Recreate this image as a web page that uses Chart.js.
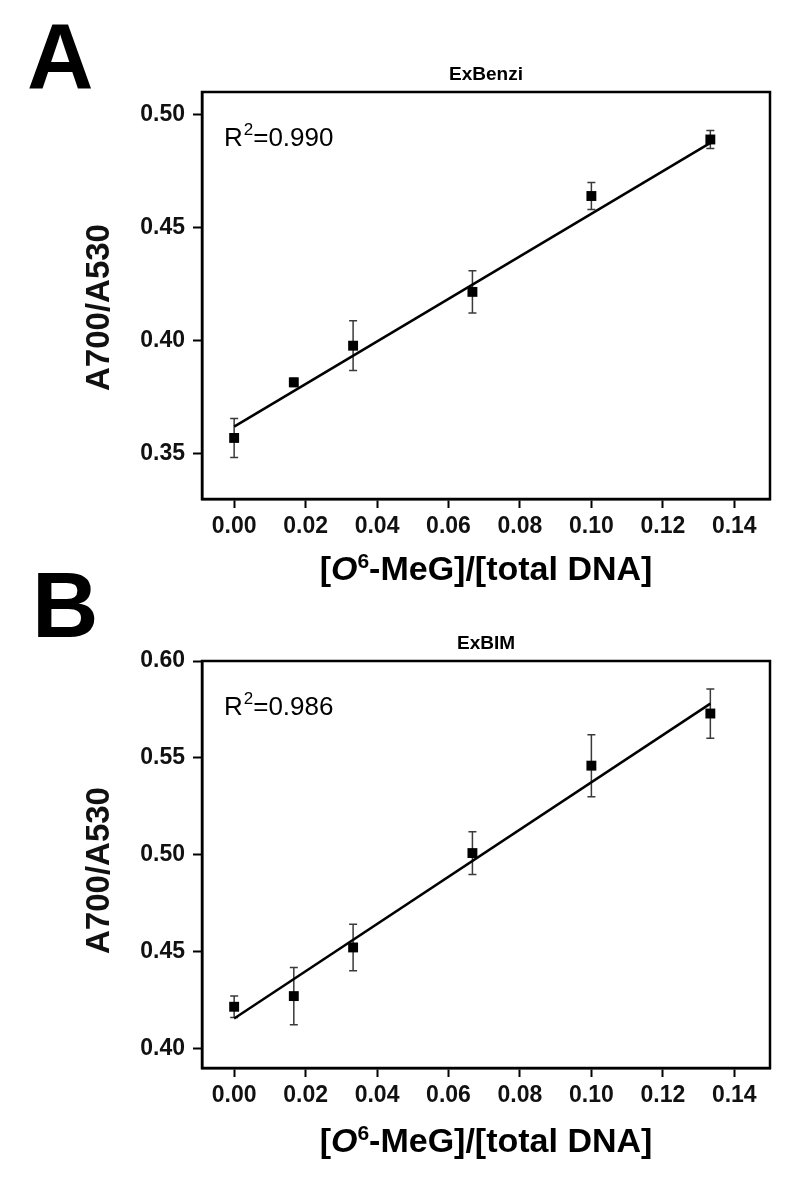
<!DOCTYPE html>
<html>
<head>
<meta charset="utf-8">
<script src="https://cdn.jsdelivr.net/npm/chart.js@4.4.1/dist/chart.umd.min.js"></script>
<style>
  body { margin: 0; background: #fff; }
  .wrap { position: relative; width: 800px; height: 1183px; }
  canvas { position: absolute; left: 0; display: block; }
  #chartA { top: 0; }
  #chartB { top: 550px; }
</style>
</head>
<body>
<div class="wrap">
<canvas id="chartA" width="800" height="600"></canvas>
<canvas id="chartB" width="800" height="633"></canvas>
</div>
<script>
// shared x positions ([O6-MeG]/[total DNA])
var xValues = [0, 0.0167, 0.0333, 0.0667, 0.1, 0.1333];
var xTicks = [0, 0.02, 0.04, 0.06, 0.08, 0.10, 0.12, 0.14];
var fitX = [0, 0.1333];

// panel A - ExBenzi
var benziY = [0.357, 0.3816, 0.3978, 0.4216, 0.464, 0.489];
var benziErr = [0.0086, 0.0018, 0.011, 0.0093, 0.006, 0.004];
var benziFit = [0.362, 0.4875];
var benziTicks = [0.35, 0.40, 0.45, 0.50];

// panel B - ExBIM
var bimY = [0.4216, 0.4271, 0.4522, 0.5009, 0.546, 0.5729];
var bimErr = [0.0055, 0.0148, 0.012, 0.011, 0.016, 0.0127];
var bimFit = [0.4155, 0.578];
var bimTicks = [0.40, 0.45, 0.50, 0.55, 0.60];

var FONT = 'Liberation Sans, Arial, sans-serif';
Chart.defaults.font.family = FONT;
Chart.defaults.color = '#111';

var framePlugin = {
    id: 'frame',
    beforeDatasetsDraw: function(chart) {
        var ctx = chart.ctx;
        var xs = chart.scales.x, ys = chart.scales.y;
        var cfg = chart.options.plugins.frame;
        ctx.save();
        ctx.strokeStyle = '#3a3a3a';
        ctx.lineWidth = 1.5;
        cfg.errors.forEach(function(err, i) {
            var px = xs.getPixelForValue(xValues[i]);
            var top = ys.getPixelForValue(cfg.values[i] + err);
            var bot = ys.getPixelForValue(cfg.values[i] - err);
            ctx.beginPath();
            ctx.moveTo(px, top); ctx.lineTo(px, bot);
            ctx.moveTo(px - 4, top); ctx.lineTo(px + 4, top);
            ctx.moveTo(px - 4, bot); ctx.lineTo(px + 4, bot);
            ctx.stroke();
        });
        ctx.restore();
    },
    afterDraw: function(chart) {
        var ctx = chart.ctx;
        var a = chart.chartArea;
        var cfg = chart.options.plugins.frame;
        ctx.save();
        ctx.strokeStyle = '#000';
        ctx.lineWidth = 2.5;
        ctx.strokeRect(a.left, a.top, a.right - a.left, a.bottom - a.top);

        ctx.fillStyle = '#000';
        ctx.textBaseline = 'alphabetic';
        ctx.textAlign = 'left';
        ctx.font = 'bold 92px ' + FONT;
        ctx.fillText(cfg.letter, cfg.letterX, cfg.letterY);

        var cx = (a.left + a.right) / 2;
        ctx.textAlign = 'center';
        ctx.textBaseline = 'middle';
        ctx.font = 'bold 19px ' + FONT;
        ctx.fillText(cfg.title, cx, a.top - 17);

        // y axis title
        ctx.save();
        ctx.translate(100, (a.top + a.bottom) / 2 + cfg.yTitleShift);
        ctx.rotate(-Math.PI / 2);
        ctx.font = 'bold 33px ' + FONT;
        ctx.fillStyle = '#111';
        ctx.fillText('A700/A530', 0, 0);
        ctx.restore();

        // R^2 label
        ctx.textAlign = 'left';
        ctx.textBaseline = 'alphabetic';
        var rx = a.left + 22, ry = a.top + 54;
        ctx.font = '26px ' + FONT;
        ctx.fillText('R', rx, ry);
        rx += ctx.measureText('R').width + 1;
        ctx.font = '17px ' + FONT;
        ctx.fillText('2', rx, ry - 11);
        rx += ctx.measureText('2').width;
        ctx.font = '26px ' + FONT;
        ctx.fillText('=' + cfg.r2, rx, ry);

        // x axis title with italic O and superscript 6
        var parts = [
            { t: '[', f: 'bold 34px ' + FONT, dy: 0 },
            { t: 'O', f: 'italic bold 34px ' + FONT, dy: 0 },
            { t: '6', f: 'bold 21px ' + FONT, dy: -12 },
            { t: '-MeG]/[total DNA]', f: 'bold 34px ' + FONT, dy: 0 }
        ];
        var total = 0;
        parts.forEach(function(p) { ctx.font = p.f; p.w = ctx.measureText(p.t).width; total += p.w; });
        var tx = cx - total / 2, ty = a.bottom + cfg.xTitleOffset;
        parts.forEach(function(p) {
            ctx.font = p.f;
            ctx.fillText(p.t, tx, ty + p.dy);
            tx += p.w;
        });
        ctx.restore();
    }
};

function makeChart(canvasId, opts) {
    var canvas = document.getElementById(canvasId);
    var points = xValues.map(function(x, i) { return { x: x, y: opts.values[i] }; });
    var fit = fitX.map(function(x, i) { return { x: x, y: opts.fit[i] }; });

    return new Chart(canvas, {
        type: 'scatter',
        data: {
            datasets: [{
                type: 'line',
                data: fit,
                borderColor: '#000',
                borderWidth: 2.5,
                pointRadius: 0,
                fill: false
            }, {
                data: points,
                backgroundColor: '#000',
                borderColor: '#000',
                pointStyle: 'rect',
                pointRadius: 7,
                borderWidth: 0
            }]
        },
        options: {
            responsive: false,
            animation: false,
            layout: { padding: { top: opts.top, right: 30, left: 0, bottom: 0 } },
            plugins: {
                legend: { display: false },
                tooltip: { enabled: false },
                frame: {
                    errors: opts.errors,
                    values: opts.values,
                    letter: opts.letter,
                    letterX: opts.letterX,
                    letterY: opts.letterY,
                    title: opts.title,
                    r2: opts.r2,
                    xTitleOffset: opts.xTitleOffset,
                    yTitleShift: opts.yTitleShift
                }
            },
            scales: {
                x: {
                    type: 'linear',
                    min: -0.009,
                    max: 0.150,
                    afterBuildTicks: function(s) { s.ticks = xTicks.map(function(v) { return { value: v }; }); },
                    afterFit: function(s) { s.height = opts.xHeight; },
                    ticks: {
                        callback: function(v) { return v.toFixed(2); },
                        font: { size: 23, weight: 'bold' },
                        color: '#111',
                        padding: 5,
                        autoSkip: false,
                        maxRotation: 0
                    },
                    grid: { drawOnChartArea: false, drawTicks: true, tickLength: 9, tickWidth: 2, color: '#000' },
                    border: { display: true, color: '#000', width: 2.5 }
                },
                y: {
                    type: 'linear',
                    min: opts.yMin,
                    max: opts.yMax,
                    afterBuildTicks: function(s) { s.ticks = opts.yTicks.map(function(v) { return { value: v }; }); },
                    afterFit: function(s) { s.width = 202; },
                    ticks: {
                        callback: function(v) { return v.toFixed(2); },
                        font: { size: 23, weight: 'bold' },
                        color: '#111',
                        padding: 8
                    },
                    grid: { drawOnChartArea: false, drawTicks: true, tickLength: 9, tickWidth: 2, color: '#000' },
                    border: { display: true, color: '#000', width: 2.5 }
                }
            }
        },
        plugins: [framePlugin]
    });
}

makeChart('chartA', {
    values: benziY, errors: benziErr, fit: benziFit, yTicks: benziTicks,
    yMin: 0.330, yMax: 0.510, top: 92, xHeight: 101,
    letter: 'A', letterX: 27, letterY: 88,
    title: 'ExBenzi', r2: '0.990', xTitleOffset: 81, yTitleShift: 12
});

makeChart('chartB', {
    values: bimY, errors: bimErr, fit: bimFit, yTicks: bimTicks,
    yMin: 0.390, yMax: 0.600, top: 111, xHeight: 115,
    letter: 'B', letterX: 32, letterY: 87,
    title: 'ExBIM', r2: '0.986', xTitleOffset: 84, yTitleShift: 6
});
</script>
</body>
</html>
